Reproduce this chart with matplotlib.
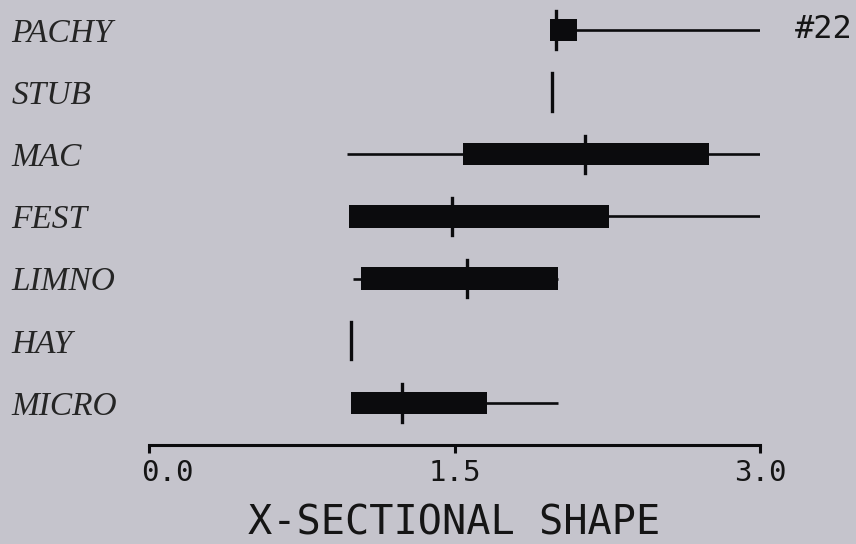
import matplotlib.pyplot as plt
from matplotlib.transforms import ScaledTranslation

# summary values (min, q1, median, q3, max)
groups = ["PACHY", "STUB", "MAC", "FEST", "LIMNO", "HAY", "MICRO"]
mins = [1.97, 1.98, 0.97, 0.98, 1.00, 0.99, 0.99]
q1s = [1.97, 1.98, 1.54, 0.98, 1.04, 0.99, 0.99]
medians = [2.00, 1.98, 2.14, 1.49, 1.56, 0.99, 1.24]
q3s = [2.10, 1.98, 2.75, 2.26, 2.01, 0.99, 1.66]
maxs = [3.00, 1.98, 3.00, 3.00, 2.01, 0.99, 2.01]

xticks = [0.0, 1.5, 3.0]
xticklabels = ["0.0", "1.5", "3.0"]
note = "#22"

bg = "#c5c4cc"
ink = "#0b0b0d"

fig = plt.figure(figsize=(8.56, 5.44), dpi=100, facecolor=bg)
ax = fig.add_axes([149 / 856, 99 / 544, (760 - 149) / 856, 445 / 544])
ax.set_facecolor(bg)

ypos = list(range(len(groups) - 1, -1, -1))

for y, lo, a, m, b, hi in zip(ypos, mins, q1s, medians, q3s, maxs):
    # whiskers
    ax.plot([lo, hi], [y, y], color=ink, lw=1.9, solid_capstyle="butt", zorder=2)
    # box
    if b > a:
        ax.barh(y, b - a, left=a, height=0.36, color=ink, zorder=3)
    # median tick
    ax.plot([m, m], [y - 0.30, y + 0.30], color=ink, lw=2.4, zorder=4)

ax.set_xlim(0, 3)
ax.set_ylim(-0.675, 6.48)

for s in ["top", "right", "left"]:
    ax.spines[s].set_visible(False)
ax.spines["bottom"].set_linewidth(2.2)
ax.spines["bottom"].set_color(ink)

ax.set_xticks(xticks, xticklabels, family="DejaVu Sans Mono", fontsize=21, color="#151515")
ax.tick_params(axis="x", length=6, width=2.2, color=ink, direction="out", pad=4)
# the first label sits a bit right of its tick in the original
first = ax.get_xticklabels()[0]
first.set_transform(first.get_transform() + ScaledTranslation(18 / 100, 0, fig.dpi_scale_trans))

ax.set_yticks(ypos, groups, family="Liberation Serif", style="italic", fontsize=24, color="#252525")
ax.tick_params(axis="y", length=0, pad=99)
for lab in ax.get_yticklabels():
    lab.set_ha("left")

ax.set_xlabel("X-SECTIONAL SHAPE", family="DejaVu Sans Mono", fontsize=29, color="#151515", labelpad=12)

ax.text(3.17, ypos[0], note, family="DejaVu Sans Mono", fontsize=23, color="#151515",
        ha="left", va="center", clip_on=False)

fig.savefig("out.png", dpi=100, facecolor=bg)
